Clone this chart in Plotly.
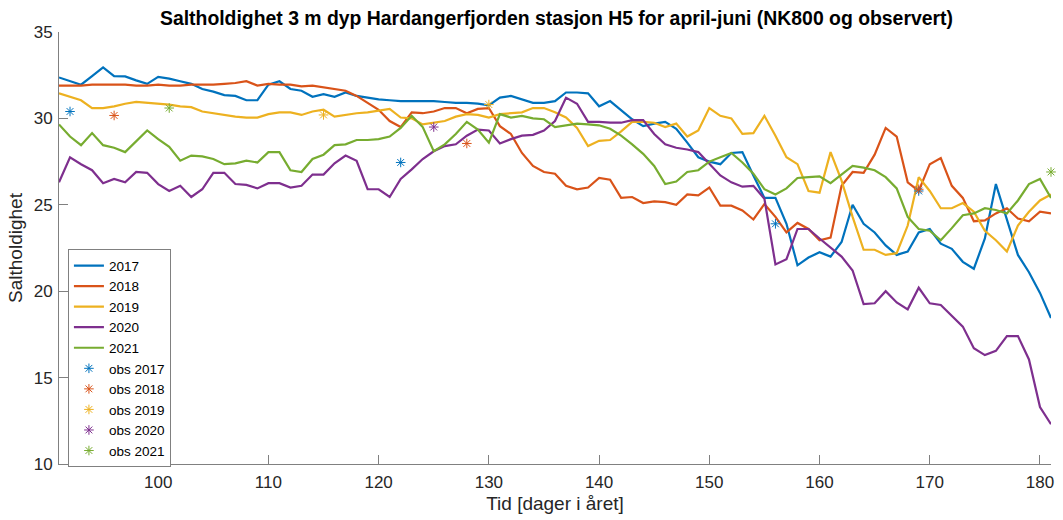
import plotly.graph_objects as go

days = list(range(91, 182))

s2017 = [32.37, 32.15, 31.95, 32.45, 32.95, 32.45, 32.43, 32.2, 32.0, 32.4,
         32.3, 32.15, 32.0, 31.7, 31.55, 31.35, 31.3, 31.05, 31.05, 31.95,
         32.15, 31.7, 31.6, 31.25, 31.4, 31.25, 31.5, 31.3, 31.2, 31.1,
         31.05, 31.0, 31.0, 31.0, 31.0, 30.95, 30.9, 30.9, 30.85, 30.75,
         31.2, 31.3, 31.1, 30.9, 30.9, 31.0, 31.5, 31.5, 31.45, 30.7,
         31.0, 30.5, 29.95, 29.55, 29.7, 29.8, 29.4, 28.6, 27.75, 27.5,
         27.35, 28.0, 28.05, 26.7, 25.4, 25.4, 23.9, 21.5, 21.95, 22.25,
         22.0, 22.85, 25.0, 23.9, 23.4, 22.65, 22.1, 22.3, 23.4, 23.6,
         22.75, 22.45, 21.7, 21.3, 23.05, 26.2, 24.2, 22.1, 21.1, 19.9,
         18.45]

s2018 = [31.9, 31.9, 31.9, 31.95, 31.95, 31.95, 31.95, 31.9, 31.9, 31.95,
         31.9, 31.9, 31.95, 31.95, 31.95, 32.0, 32.05, 32.15, 31.9, 32.0,
         31.95, 31.95, 31.85, 31.9, 31.8, 31.7, 31.6, 31.3, 30.9, 30.5,
         29.85, 29.5, 30.35, 30.3, 30.4, 30.6, 30.6, 30.3, 30.55, 30.6,
         29.55, 29.1, 28.0, 27.25, 26.9, 26.8, 26.1, 25.9, 26.0, 26.55,
         26.45, 25.4, 25.45, 25.1, 25.2, 25.15, 25.0, 25.6, 25.55, 26.0,
         24.95, 24.95, 24.67, 24.15, 25.05, 24.3, 23.4, 23.95, 23.6, 22.95,
         23.1, 26.1, 26.9, 26.85, 27.9, 29.45, 28.95, 26.3, 25.8, 27.35,
         27.7, 26.1, 25.4, 24.05, 24.1, 24.5, 24.8, 24.2, 24.05, 24.6,
         24.5]

s2019 = [31.45, 31.25, 31.05, 30.6, 30.6, 30.7, 30.85, 30.95, 30.9, 30.85,
         30.8, 30.7, 30.65, 30.4, 30.3, 30.2, 30.1, 30.05, 30.05, 30.25,
         30.35, 30.35, 30.2, 30.4, 30.5, 30.1, 30.2, 30.3, 30.35, 30.45,
         30.55, 30.05, 30.0, 29.65, 29.75, 29.85, 30.1, 30.25, 30.2, 30.05,
         30.25, 30.3, 30.35, 30.6, 30.6, 30.35, 30.05, 29.45, 28.4, 28.7,
         28.75, 29.25, 29.8, 29.8, 29.75, 29.5, 29.7, 28.95, 29.3, 30.6,
         30.15, 30.0, 29.1, 29.15, 30.15, 29.0, 27.75, 27.35, 25.8, 25.7,
         28.05, 26.4, 24.3, 22.4, 22.4, 22.1, 22.2, 23.8, 26.6, 25.8,
         24.8, 24.8, 25.1, 24.6, 23.5, 22.95, 22.3, 23.8, 24.6, 25.25,
         25.6]

s2020 = [26.3, 27.75, 27.35, 27.0, 26.25, 26.5, 26.3, 26.9, 26.85, 26.2,
         25.8, 26.1, 25.45, 25.9, 26.85, 26.85, 26.2, 26.15, 25.95, 26.25,
         26.25, 26.0, 26.1, 26.75, 26.75, 27.4, 27.85, 27.55, 25.9, 25.9,
         25.45, 26.5, 27.05, 27.65, 28.1, 28.4, 28.5, 29.0, 29.35, 29.3,
         28.55, 28.8, 29.0, 29.05, 29.3, 29.85, 31.2, 30.85, 29.8, 29.8,
         29.75, 29.75, 29.9, 29.9, 29.1, 28.5, 28.3, 28.2, 28.05, 27.35,
         26.7, 26.3, 26.05, 26.1, 25.35, 21.55, 21.85, 23.6, 23.6, 23.05,
         22.55, 22.0, 21.2, 19.25, 19.3, 20.0, 19.35, 18.95, 20.2, 19.3,
         19.2, 18.55, 17.95, 16.7, 16.3, 16.55, 17.4, 17.4, 16.05, 13.3,
         12.3]

s2021 = [29.65, 28.95, 28.45, 29.15, 28.45, 28.3, 28.05, 28.7, 29.3, 28.8,
         28.35, 27.55, 27.85, 27.8, 27.65, 27.35, 27.4, 27.55, 27.45, 28.05,
         28.05, 27.0, 26.9, 27.65, 27.9, 28.45, 28.5, 28.75, 28.75, 28.8,
         28.95, 29.45, 30.15, 29.5, 28.1, 28.5, 29.1, 29.8, 29.35, 28.6,
         30.25, 30.05, 30.15, 30.0, 29.95, 29.5, 29.6, 29.7, 29.65, 29.6,
         29.4, 29.0, 28.5, 27.95, 27.25, 26.2, 26.35, 26.9, 27.0, 27.5,
         27.75, 28.0, 27.45, 26.8, 25.9, 25.6, 25.95, 26.55, 26.6, 26.65,
         26.25, 26.75, 27.25, 27.15, 27.0, 26.6, 25.95, 24.3, 23.6, 23.5,
         22.95, 23.65, 24.4, 24.5, 24.8, 24.7, 24.5, 25.25, 26.2, 26.5,
         25.4]

obs2017_x = [92, 122, 156, 169]
obs2017_y = [30.4, 27.45, 23.9, 25.8]
obs2018_x = [96, 128, 169]
obs2018_y = [30.17, 28.55, 25.9]
obs2019_x = [115, 130]
obs2019_y = [30.2, 30.8]
obs2020_x = [125]
obs2020_y = [29.5]
obs2021_x = [101, 181]
obs2021_y = [30.6, 26.9]

years = ["2017", "2018", "2019", "2020", "2021"]
colors = ["#0072BD", "#D95319", "#EDB120", "#7E2F8E", "#77AC30"]
series = [s2017, s2018, s2019, s2020, s2021]
obs = [(obs2017_x, obs2017_y), (obs2018_x, obs2018_y), (obs2019_x, obs2019_y),
       (obs2020_x, obs2020_y), (obs2021_x, obs2021_y)]

fig = go.Figure()
for name, col, s in zip(years, colors, series):
    fig.add_trace(go.Scatter(x=days, y=s, mode="lines", name=name,
                             line=dict(color=col, width=2.2)))
for name, col, (ox, oy) in zip(years, colors, obs):
    fig.add_trace(go.Scatter(x=ox, y=oy, mode="markers", name="obs " + name,
                             marker=dict(symbol="asterisk-open", size=8,
                                         color=col, line=dict(color=col, width=1)),
                             cliponaxis=False))

font_family = "Liberation Sans, Arial, Helvetica, sans-serif"
axis_col = "#808080"
fig.update_layout(
    width=1063, height=520,
    margin=dict(l=59, r=9, t=32, b=53),
    paper_bgcolor="white", plot_bgcolor="white",
    font=dict(family=font_family, size=17, color="#262626"),
    title=dict(text="<b>Saltholdighet 3 m dyp Hardangerfjorden stasjon H5 for april-juni (NK800 og observert)</b>",
               x=0.5235, xanchor="center", y=0.965, yanchor="middle",
               font=dict(size=19.4, color="black")),
    xaxis=dict(range=[91, 181], tickvals=[100, 110, 120, 130, 140, 150, 160, 170, 180],
               ticks="inside", ticklen=9, tickcolor=axis_col, showline=True,
               linecolor=axis_col, linewidth=1, showgrid=False, zeroline=False,
               ticklabelstandoff=3,
               title=dict(text="Tid [dager i året]", font=dict(size=19), standoff=5)),
    yaxis=dict(range=[10, 35], tickvals=[10, 15, 20, 25, 30, 35],
               ticks="inside", ticklen=9, tickcolor=axis_col, showline=True,
               linecolor=axis_col, linewidth=1, showgrid=False, zeroline=False,
               ticklabelstandoff=2,
               title=dict(text="Saltholdighet", font=dict(size=19), standoff=6)),
    legend=dict(x=0.009, y=0.497, xanchor="left", yanchor="top",
                bordercolor="#808080", borderwidth=1, bgcolor="white",
                font=dict(size=13.5, color="black"), tracegroupgap=0,
                itemwidth=30),
    showlegend=True,
)

fig.write_html("out.html", config={"displayModeBar": False},
               post_script="document.body.style.margin='0';")
